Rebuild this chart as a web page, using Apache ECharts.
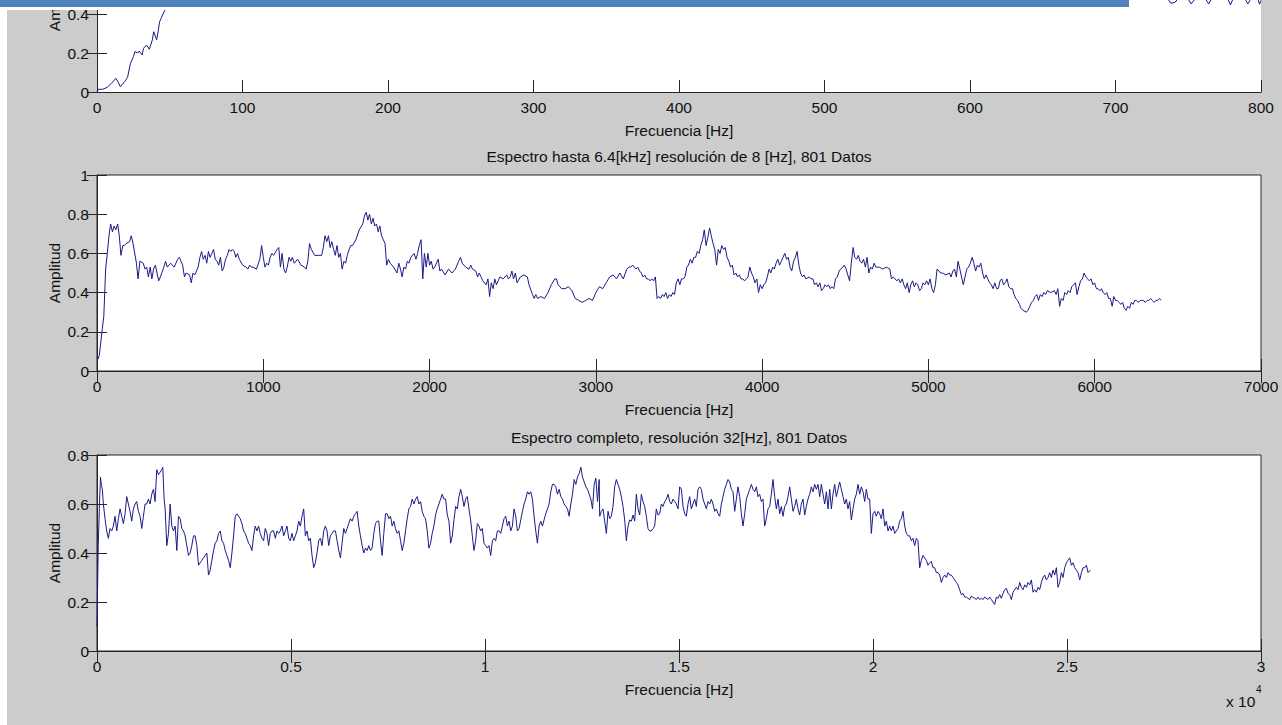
<!DOCTYPE html>
<html><head><meta charset="utf-8">
<script src="https://cdn.jsdelivr.net/npm/echarts@6/dist/echarts.min.js"></script>
<style>html,body{margin:0;padding:0;background:#fff;}#c{width:1282px;height:725px;}</style>
</head><body><div id="c"></div>
<script>
// ---------- DATA ----------
const xName = 'Frecuencia [Hz]';
const yName = 'Amplitud';
const title2 = 'Espectro hasta 6.4[kHz] resolución de 8 [Hz], 801 Datos';
const title3 = 'Espectro completo, resolución 32[Hz], 801 Datos';
const exponentBase = 'x 10';
const exponentPow = '4';
const yTicks1 = [0, 0.2, 0.4];          // only these ticks of the top panel are in view
const panel1VisibleMax = 0.4718;         // amplitude at the upper edge of the cropped view

// Panel 1: 0-800 Hz (mostly above the visible window)
const spec1Freq = [0,1,4,7,10,13,15,16,19,21,23,25,26,28,29,31,32,34,36,38,39,41,42,43,44,46,47,50,60,70,80,100,120,140,160,200,240,300,350,400,450,500,550,600,650,700,720,730,735,738,741,744,748,752,756,760,764,767,772,776,779,782,788,791,794,797,799,800];
const spec1Amp = [0,0.014,0.014,0.024,0.045,0.07,0.045,0.027,0.053,0.075,0.147,0.181,0.207,0.2,0.21,0.19,0.224,0.241,0.219,0.267,0.309,0.267,0.31,0.36,0.377,0.41,0.424,0.5,0.6,0.68,0.75,0.72,0.74,0.66,0.62,0.67,0.55,0.53,0.53,0.54,0.55,0.57,0.5,0.55,0.58,0.58,0.55,0.5,0.49,0.455,0.46,0.49,0.5,0.452,0.49,0.5,0.452,0.49,0.5,0.5,0.446,0.5,0.49,0.452,0.49,0.5,0.45,0.47];

// Panel 2: up to 6.4 kHz
const spec2Freq = [
6,14,31,41,52,62,72,82,93,103,
113,124,134,144,155,165,175,196,206,217,
237,247,258,278,289,299,309,320,330,340,
351,361,371,381,402,412,423,443,464,485,
495,505,515,526,536,557,567,577,588,608,
619,629,639,650,660,670,680,691,701,711,
722,732,742,753,763,773,784,794,804,814,
825,835,845,856,876,897,907,918,928,938,
959,979,990,1000,1010,1021,1031,1041,1052,1062,
1083,1093,1103,1113,1124,1134,1144,1155,1165,1175,
1186,1206,1227,1248,1258,1268,1278,1289,1309,1330,
1351,1361,1371,1382,1392,1402,1412,1423,1433,1443,
1454,1464,1474,1485,1495,1505,1516,1526,1536,1557,
1577,1598,1608,1619,1629,1639,1650,1660,1670,1681,
1691,1701,1711,1722,1732,1742,1753,1763,1784,1804,
1815,1825,1835,1845,1856,1866,1876,1887,1907,1918,
1928,1938,1949,1959,1969,1980,1990,2000,2010,2021,
2031,2052,2062,2072,2093,2114,2134,2155,2175,2186,
2196,2217,2237,2248,2258,2278,2289,2299,2320,2340,
2351,2361,2371,2382,2392,2402,2423,2443,2464,2474,
2485,2495,2505,2516,2526,2546,2567,2588,2598,2619,
2629,2639,2650,2670,2691,2712,2732,2753,2763,2773,
2794,2815,2835,2856,2876,2897,2918,2938,2959,2980,
3000,3021,3041,3062,3083,3103,3124,3144,3165,3186,
3200,3210,3221,3231,3242,3252,3263,3273,3284,3294,
3305,3315,3326,3336,3347,3358,3368,3379,3389,3400,
3410,3421,3431,3442,3452,3463,3473,3484,3494,3505,
3515,3526,3536,3547,3557,3568,3579,3589,3600,3610,
3621,3631,3642,3652,3663,3673,3684,3694,3705,3715,
3726,3736,3747,3757,3768,3778,3789,3800,3810,3821,
3831,3842,3852,3863,3873,3884,3894,3905,3915,3926,
3936,3947,3957,3968,3978,3989,4000,4010,4021,4031,
4042,4052,4063,4073,4084,4094,4105,4115,4126,4136,
4147,4157,4168,4178,4189,4200,4210,4221,4231,4242,
4252,4263,4284,4294,4305,4315,4326,4336,4347,4357,
4368,4378,4389,4399,4410,4420,4431,4441,4452,4463,
4473,4484,4494,4505,4515,4526,4536,4547,4557,4568,
4578,4589,4599,4610,4621,4631,4642,4652,4663,4673,
4684,4694,4705,4726,4747,4768,4778,4789,4799,4810,
4820,4831,4842,4852,4863,4873,4884,4894,4905,4915,
4926,4936,4947,4957,4968,4978,4989,5000,5010,5021,
5031,5042,5052,5063,5073,5084,5105,5126,5136,5147,
5157,5168,5178,5189,5199,5210,5220,5231,5241,5252,
5263,5273,5284,5294,5305,5315,5326,5336,5347,5357,
5368,5378,5389,5399,5410,5420,5431,5441,5452,5462,
5473,5483,5494,5505,5515,5526,5536,5547,5557,5568,
5589,5599,5610,5620,5631,5641,5652,5662,5673,5684,
5694,5705,5715,5736,5757,5768,5778,5789,5799,5810,
5820,5831,5841,5852,5862,5873,5884,5894,5905,5915,
5926,5936,5947,5957,5968,5978,5989,5999,6010,6020,
6031,6041,6052,6062,6073,6083,6094,6105,6115,6126,
6136,6147,6157,6168,6178,6189,6199,6210,6220,6231,
6241,6252,6262,6273,6283,6294,6304,6315,6325,6336,
6347,6357,6368,6378,6389,6400];
const spec2Amp = [
0.06,0.08,0.21,0.28,0.52,0.60,0.69,0.75,0.71,0.74,
0.72,0.75,0.69,0.59,0.64,0.64,0.65,0.66,0.69,0.65,
0.55,0.47,0.56,0.55,0.52,0.53,0.48,0.53,0.47,0.52,
0.54,0.50,0.46,0.48,0.53,0.56,0.53,0.55,0.53,0.57,
0.58,0.56,0.54,0.48,0.50,0.49,0.45,0.50,0.49,0.53,
0.58,0.61,0.57,0.59,0.55,0.61,0.58,0.60,0.62,0.57,
0.56,0.54,0.58,0.51,0.53,0.57,0.59,0.62,0.61,0.62,
0.61,0.58,0.60,0.57,0.54,0.53,0.52,0.54,0.53,0.53,
0.52,0.57,0.64,0.58,0.53,0.55,0.54,0.58,0.60,0.59,
0.62,0.63,0.53,0.60,0.52,0.50,0.53,0.58,0.56,0.58,
0.55,0.57,0.54,0.53,0.52,0.56,0.65,0.62,0.59,0.59,
0.59,0.63,0.69,0.66,0.69,0.63,0.66,0.62,0.59,0.64,
0.58,0.60,0.52,0.56,0.55,0.59,0.62,0.64,0.64,0.67,
0.72,0.75,0.79,0.81,0.77,0.80,0.75,0.78,0.74,0.75,
0.71,0.74,0.69,0.67,0.65,0.54,0.57,0.55,0.53,0.50,
0.55,0.52,0.48,0.53,0.52,0.56,0.55,0.58,0.60,0.57,
0.60,0.64,0.67,0.47,0.60,0.53,0.60,0.54,0.56,0.52,
0.53,0.57,0.51,0.52,0.49,0.52,0.50,0.52,0.56,0.58,
0.55,0.53,0.52,0.54,0.52,0.51,0.48,0.50,0.46,0.44,
0.47,0.38,0.45,0.42,0.47,0.44,0.48,0.47,0.49,0.47,
0.48,0.51,0.47,0.50,0.45,0.48,0.49,0.48,0.44,0.39,
0.37,0.39,0.37,0.38,0.37,0.40,0.44,0.47,0.47,0.44,
0.42,0.42,0.43,0.41,0.37,0.36,0.35,0.36,0.37,0.36,
0.40,0.43,0.42,0.45,0.48,0.49,0.47,0.50,0.47,0.52,
0.53,0.53,0.54,0.53,0.52,0.53,0.51,0.50,0.48,0.49,
0.47,0.47,0.46,0.47,0.46,0.48,0.37,0.38,0.37,0.39,
0.38,0.40,0.37,0.39,0.38,0.40,0.39,0.45,0.47,0.44,
0.47,0.47,0.48,0.53,0.54,0.57,0.55,0.58,0.58,0.61,
0.60,0.64,0.67,0.72,0.64,0.68,0.73,0.69,0.65,0.62,
0.54,0.62,0.60,0.64,0.62,0.63,0.58,0.56,0.53,0.54,
0.49,0.50,0.48,0.49,0.47,0.47,0.46,0.47,0.48,0.53,
0.50,0.48,0.45,0.47,0.40,0.44,0.42,0.44,0.45,0.48,
0.52,0.50,0.53,0.52,0.55,0.57,0.54,0.56,0.58,0.60,
0.57,0.58,0.53,0.51,0.56,0.58,0.61,0.54,0.50,0.48,
0.49,0.47,0.48,0.47,0.47,0.44,0.45,0.43,0.45,0.41,
0.42,0.44,0.43,0.44,0.42,0.43,0.42,0.47,0.48,0.51,
0.52,0.53,0.54,0.52,0.49,0.46,0.55,0.63,0.58,0.57,
0.59,0.56,0.55,0.57,0.53,0.58,0.50,0.53,0.52,0.55,
0.53,0.53,0.53,0.52,0.53,0.52,0.47,0.48,0.47,0.46,
0.47,0.45,0.47,0.44,0.42,0.45,0.40,0.44,0.46,0.43,
0.45,0.44,0.41,0.42,0.45,0.44,0.46,0.44,0.47,0.42,
0.40,0.44,0.52,0.51,0.50,0.50,0.49,0.50,0.48,0.51,
0.52,0.48,0.56,0.52,0.48,0.44,0.48,0.52,0.53,0.55,
0.58,0.55,0.51,0.54,0.53,0.55,0.50,0.47,0.49,0.47,
0.45,0.44,0.42,0.45,0.42,0.42,0.46,0.47,0.44,0.45,
0.47,0.43,0.42,0.42,0.39,0.37,0.36,0.34,0.32,0.31,
0.30,0.31,0.33,0.35,0.36,0.38,0.39,0.36,0.39,0.38,
0.40,0.39,0.41,0.40,0.41,0.39,0.42,0.33,0.37,0.36,
0.40,0.39,0.41,0.40,0.43,0.44,0.45,0.39,0.43,0.46,
0.47,0.50,0.48,0.47,0.46,0.47,0.44,0.45,0.42,0.42,
0.41,0.42,0.40,0.39,0.40,0.37,0.37,0.33,0.38,0.36,
0.36,0.35,0.34,0.35,0.32,0.31,0.33,0.32,0.35,0.34,
0.36,0.36,0.35,0.36,0.36,0.36,0.35,0.36,0.36,0.37,
0.36,0.35,0.36,0.36,0.37,0.36];

// Panel 3: full spectrum
const spec3Freq = [
0,32,64,90,110,138,164,207,250,293,
336,379,422,465,508,551,594,637,680,723,
766,809,852,895,938,981,1024,1067,1110,1153,
1196,1239,1282,1325,1368,1411,1455,1497,1540,1584,
1627,1670,1695,1730,1756,1799,1842,1885,1928,1971,
2014,2057,2100,2143,2186,2229,2272,2315,2358,2401,
2444,2487,2530,2573,2616,2659,2702,2745,2788,2831,
2874,2917,2960,3004,3047,3090,3133,3176,3219,3262,
3305,3348,3391,3434,3477,3520,3563,3606,3649,3692,
3735,3778,3821,3864,3907,3950,3993,4036,4079,4122,
4165,4208,4251,4294,4337,4380,4423,4466,4510,4553,
4596,4639,4682,4725,4768,4811,4854,4897,4940,4983,
5026,5069,5112,5155,5198,5241,5284,5327,5370,5413,
5456,5499,5542,5585,5628,5671,5714,5757,5800,5843,
5886,5929,5972,6015,6058,6101,6145,6188,6231,6274,
6317,6360,6403,6446,6489,6532,6575,6618,6661,6704,
6747,6790,6833,6876,6919,6962,7005,7048,7091,7134,
7177,7220,7263,7306,7349,7392,7436,7479,7522,7565,
7608,7651,7694,7737,7780,7823,7866,7909,7952,7995,
8038,8081,8124,8167,8210,8253,8296,8339,8382,8425,
8468,8511,8554,8597,8640,8683,8726,8769,8812,8855,
8898,8941,8985,9028,9071,9114,9157,9200,9243,9286,
9329,9372,9415,9458,9501,9544,9587,9630,9673,9716,
9759,9802,9845,9888,9931,9974,10017,10060,10103,10147,
10190,10233,10276,10319,10362,10405,10448,10491,10534,10577,
10620,10663,10706,10749,10792,10835,10878,10921,10964,11007,
11050,11093,11136,11179,11222,11265,11308,11351,11394,11437,
11480,11523,11566,11609,11652,11695,11738,11781,11824,11867,
11911,11954,11997,12040,12083,12126,12169,12212,12255,12298,
12341,12384,12427,12470,12513,12556,12599,12642,12685,12728,
12771,12814,12857,12900,12943,
12956,13000,13042,13085,13128,13171,13213,13256,13299,13342,
13385,13428,13471,13514,13557,13600,13643,13686,13729,13772,
13815,13858,13901,13944,13987,14030,14073,14116,14158,14201,
14244,14287,14330,14373,14416,14459,14502,14545,14588,14631,
14674,14717,14760,14803,14846,14889,14932,14975,15018,15061,
15104,15147,15189,15232,15275,15318,15361,15404,15447,15490,
15533,15576,15619,15662,15705,15748,15791,15834,15877,15920,
15963,16006,16049,16092,16134,16177,16220,16263,16306,16349,
16392,16435,16478,16521,16564,16607,16650,16693,16736,16779,
16822,16865,16908,16951,16994,17036,17079,17122,17165,17208,
17251,17294,17337,17380,17423,17466,17509,17552,17595,17638,
17681,17724,17767,17810,17853,17896,17939,17982,18024,18067,
18110,18153,18196,18239,18282,18325,18368,18411,18454,18497,
18540,18583,18626,18669,18712,18755,18798,18841,18884,18927,
18969,19012,19055,19098,19141,19184,19227,19270,19313,19356,
19399,19442,19485,19528,19571,19614,19657,19700,19743,19786,
19829,19871,19914,19957,20000,20043,20086,20129,20172,20215,
20258,20301,20344,20387,20430,20473,20516,20559,20602,20645,
20688,20731,20774,20817,20860,20902,20945,20988,21031,21074,
21117,21160,21203,21246,21289,21332,21375,21418,21461,21504,
21547,21590,21633,21676,21719,21762,21805,21848,21891,21934,
21976,22019,22062,22105,22148,22191,22234,22277,22320,22363,
22406,22449,22492,22535,22578,22621,22664,22707,22750,22793,
22836,22879,22922,22965,23008,23050,23093,23136,23179,23222,
23265,23308,23351,23394,23437,23480,23523,23566,23609,23652,
23695,23738,23781,23824,23867,23910,23953,23996,24039,24082,
24125,24167,24210,24253,24296,24339,24382,24425,24468,24511,
24554,24597,24640,24683,24726,24769,24812,24855,24898,24941,
24984,25027,25070,25113,25156,25199,25242,25285,25328,25371,
25414,25457,25500,25543,25600];
const spec3Amp = [
0.10,0.43,0.60,0.71,0.68,0.66,0.60,0.54,0.49,0.46,
0.50,0.49,0.51,0.55,0.49,0.54,0.58,0.55,0.52,0.56,
0.63,0.60,0.57,0.53,0.58,0.60,0.61,0.57,0.55,0.50,
0.55,0.60,0.60,0.62,0.60,0.64,0.66,0.61,0.74,0.72,
0.73,0.74,0.75,0.62,0.58,0.43,0.48,0.60,0.51,0.49,
0.51,0.41,0.55,0.54,0.50,0.49,0.47,0.43,0.39,0.40,
0.43,0.47,0.47,0.43,0.35,0.36,0.37,0.38,0.39,0.40,
0.31,0.33,0.37,0.41,0.44,0.45,0.48,0.49,0.45,0.44,
0.41,0.39,0.37,0.34,0.40,0.47,0.55,0.56,0.55,0.54,
0.52,0.49,0.48,0.46,0.44,0.43,0.41,0.47,0.51,0.49,
0.51,0.48,0.46,0.45,0.50,0.48,0.43,0.48,0.49,0.49,
0.46,0.49,0.48,0.49,0.51,0.47,0.49,0.51,0.46,0.45,
0.48,0.45,0.47,0.49,0.53,0.51,0.55,0.58,0.47,0.49,
0.45,0.46,0.39,0.34,0.36,0.40,0.45,0.46,0.43,0.49,
0.51,0.49,0.43,0.47,0.48,0.49,0.49,0.45,0.41,0.38,
0.44,0.50,0.48,0.50,0.52,0.54,0.53,0.55,0.56,0.57,
0.51,0.47,0.43,0.40,0.42,0.41,0.43,0.41,0.42,0.48,
0.52,0.53,0.53,0.45,0.39,0.48,0.56,0.56,0.54,0.55,
0.51,0.53,0.50,0.48,0.49,0.45,0.41,0.44,0.49,0.54,
0.58,0.59,0.62,0.60,0.62,0.63,0.60,0.61,0.57,0.55,
0.54,0.49,0.42,0.44,0.48,0.51,0.555,0.58,0.60,0.62,
0.64,0.62,0.62,0.555,0.53,0.44,0.47,0.535,0.59,0.58,
0.63,0.66,0.63,0.59,0.62,0.63,0.58,0.535,0.47,0.41,
0.45,0.52,0.51,0.49,0.50,0.44,0.43,0.42,0.43,0.39,
0.45,0.46,0.45,0.49,0.49,0.48,0.51,0.54,0.55,0.51,
0.53,0.49,0.51,0.58,0.55,0.49,0.50,0.535,0.57,0.60,
0.62,0.65,0.64,0.65,0.62,0.55,0.49,0.44,0.51,0.53,
0.51,0.535,0.56,0.58,0.60,0.65,0.68,0.68,0.67,0.64,
0.66,0.63,0.62,0.60,0.59,0.58,0.55,0.60,0.64,0.70,
0.68,0.71,0.725,0.75,0.71,0.69,0.67,0.66,0.64,0.62,
0.58,0.68,0.705,0.61,0.70,
0.55,0.57,0.58,0.53,0.48,0.57,0.54,0.55,0.59,0.67,
0.70,0.68,0.66,0.63,0.59,0.535,0.45,0.51,0.535,0.53,
0.555,0.53,0.64,0.58,0.555,0.64,0.61,0.59,0.55,0.50,
0.49,0.49,0.50,0.51,0.58,0.555,0.56,0.60,0.59,0.61,
0.62,0.64,0.61,0.60,0.62,0.61,0.60,0.58,0.67,0.66,
0.59,0.56,0.55,0.60,0.63,0.58,0.60,0.62,0.59,0.66,
0.67,0.66,0.62,0.60,0.58,0.61,0.60,0.62,0.60,0.57,
0.58,0.56,0.55,0.60,0.63,0.66,0.68,0.70,0.69,0.66,
0.65,0.57,0.62,0.67,0.63,0.56,0.51,0.56,0.62,0.64,
0.66,0.68,0.66,0.65,0.67,0.63,0.64,0.61,0.62,0.51,
0.54,0.58,0.59,0.64,0.70,0.63,0.58,0.62,0.56,0.59,
0.55,0.59,0.60,0.63,0.67,0.62,0.57,0.59,0.62,0.58,
0.555,0.60,0.62,0.555,0.59,0.62,0.64,0.67,0.65,0.68,
0.66,0.68,0.63,0.68,0.64,0.60,0.65,0.58,0.66,0.58,
0.64,0.68,0.63,0.66,0.69,0.66,0.63,0.60,0.62,0.58,
0.61,0.535,0.58,0.62,0.64,0.68,0.64,0.67,0.65,0.61,
0.66,0.62,0.62,0.48,0.56,0.57,0.55,0.57,0.56,0.54,
0.58,0.51,0.53,0.49,0.51,0.49,0.51,0.48,0.49,0.50,
0.53,0.54,0.57,0.51,0.48,0.47,0.47,0.45,0.46,0.43,
0.46,0.45,0.34,0.37,0.39,0.38,0.37,0.35,0.36,0.365,
0.34,0.34,0.32,0.32,0.31,0.28,0.30,0.31,0.30,0.32,
0.31,0.31,0.30,0.29,0.28,0.27,0.25,0.23,0.235,0.22,
0.22,0.215,0.21,0.224,0.219,0.215,0.21,0.22,0.21,0.215,
0.21,0.22,0.215,0.21,0.22,0.21,0.20,0.19,0.22,0.215,
0.23,0.215,0.235,0.25,0.256,0.235,0.23,0.21,0.24,0.25,
0.26,0.25,0.28,0.26,0.25,0.27,0.26,0.28,0.27,0.29,
0.24,0.25,0.24,0.26,0.25,0.28,0.30,0.31,0.29,0.30,
0.32,0.30,0.33,0.31,0.34,0.26,0.28,0.32,0.30,0.34,
0.36,0.37,0.38,0.35,0.36,0.34,0.33,0.32,0.29,0.32,
0.34,0.34,0.35,0.32,0.33];

// ---------- CHART ----------
const FONT = '"Liberation Sans", Arial, Helvetica, sans-serif';
const FS = 15.5;
const AX = '#262626';
const LINE = '#1a1a88';
const TXT = '#111111';
const lab = {color: TXT, fontFamily: FONT, fontSize: FS};

const panels = [
  {top: 0, height: 92, xMax: 800, xInt: 100, yMax: panel1VisibleMax, yTicks: yTicks1, cropped: true,
    fmt: v => String(v), freq: spec1Freq, amp: spec1Amp},
  {top: 175, height: 196, xMax: 7000, xInt: 1000, yMax: 1, cropped: false,
    fmt: v => String(v), freq: spec2Freq, amp: spec2Amp},
  {top: 455, height: 196, xMax: 30000, xInt: 5000, yMax: 0.8, cropped: false,
    fmt: v => String(+(v / 10000).toFixed(2)), freq: spec3Freq, amp: spec3Amp}
];

const grid = [], xAxis = [], yAxis = [], series = [];
panels.forEach((p, i) => {
  grid.push({left: 97, right: 21, top: p.top, height: p.height, show: true,
    backgroundColor: '#ffffff', borderColor: AX, borderWidth: p.cropped ? 0 : 1,
    containLabel: false, outerBoundsMode: 'none'});
  const tick = (len) => ({show: true, inside: true, length: len, lineStyle: {color: AX, width: 1}});
  const yTick = tick(10);
  const yLab = Object.assign({margin: 8, showMinLabel: true, showMaxLabel: true}, lab);
  if (p.yTicks) { yTick.customValues = p.yTicks.slice(); yLab.customValues = p.yTicks.slice(); }
  xAxis.push({type: 'value', gridIndex: i, position: 'bottom', min: 0, max: p.xMax, interval: p.xInt,
    axisLine: {show: true, lineStyle: {color: AX, width: 1}}, axisTick: tick(12),
    axisLabel: Object.assign({margin: 7, formatter: p.fmt, showMinLabel: true, showMaxLabel: true}, lab),
    splitLine: {show: false},
    name: xName, nameLocation: 'middle', nameGap: 30, nameTextStyle: lab, nameMoveOverlap: false});
  xAxis.push({type: 'value', gridIndex: i, position: 'top', min: 0, max: p.xMax, interval: p.xInt,
    show: !p.cropped,
    axisLine: {show: true, lineStyle: {color: AX, width: 1}}, axisTick: tick(12),
    axisLabel: {show: false}, splitLine: {show: false}});
  yAxis.push({type: 'value', gridIndex: i, position: 'left', min: 0, max: p.yMax, interval: 0.2,
    axisLine: {show: true, lineStyle: {color: AX, width: 1}}, axisTick: yTick,
    axisLabel: yLab, splitLine: {show: false},
    name: p.cropped ? '' : yName, nameLocation: 'middle', nameGap: 35, nameRotate: 90,
    nameTextStyle: lab, nameMoveOverlap: false});
  const rTick = tick(10);
  if (p.yTicks) rTick.customValues = p.yTicks.slice();
  yAxis.push({type: 'value', gridIndex: i, position: 'right', min: 0, max: p.yMax, interval: 0.2,
    axisLine: {show: true, lineStyle: {color: AX, width: 1}}, axisTick: rTick,
    axisLabel: {show: false}, splitLine: {show: false}});
  const n = Math.min(p.freq.length, p.amp.length);
  const data = [];
  for (let k = 0; k < n; k++) data.push([p.freq[k], p.amp[k]]);
  series.push({type: 'line', xAxisIndex: 2 * i, yAxisIndex: 2 * i, data: data,
    showSymbol: false, symbol: 'none', lineStyle: {color: LINE, width: 1}, clip: true,
    animation: false, silent: true, z: 3});
});

const chart = echarts.init(document.getElementById('c'), null, {renderer: 'svg'});
chart.setOption({
  animation: false,
  backgroundColor: '#cccccc',
  grid: grid, xAxis: xAxis, yAxis: yAxis, series: series,
  graphic: [
    // y-axis name of the cropped top panel (centred on its full, mostly hidden height, as in the reference)
    {type: 'text', z: 50, silent: true, x: 54, y: 1, rotation: Math.PI / 2,
      style: {text: yName, fill: TXT, font: FS + 'px ' + FONT, align: 'center', verticalAlign: 'middle'}},
    {type: 'rect', z: 100, silent: true, shape: {x: 0, y: 0, width: 7, height: 725}, style: {fill: '#ffffff'}},
    {type: 'rect', z: 100, silent: true, shape: {x: 0, y: 0, width: 1129, height: 10}, style: {fill: '#ffffff'}},
    {type: 'rect', z: 101, silent: true, shape: {x: 0, y: 0, width: 1129, height: 7}, style: {fill: '#4f81bd'}},
    {type: 'text', z: 50, silent: true, x: 679, y: 156,
      style: {text: title2, fill: TXT, font: FS + 'px ' + FONT, align: 'center', verticalAlign: 'middle'}},
    {type: 'text', z: 50, silent: true, x: 679, y: 437,
      style: {text: title3, fill: TXT, font: FS + 'px ' + FONT, align: 'center', verticalAlign: 'middle'}},
    {type: 'text', z: 50, silent: true, x: 1226, y: 701,
      style: {text: exponentBase, fill: TXT, font: FS + 'px ' + FONT, align: 'left', verticalAlign: 'middle'}},
    {type: 'text', z: 50, silent: true, x: 1256, y: 689,
      style: {text: exponentPow, fill: TXT, font: '10px ' + FONT, align: 'left', verticalAlign: 'middle'}}
  ]
});
</script>
</body></html>
